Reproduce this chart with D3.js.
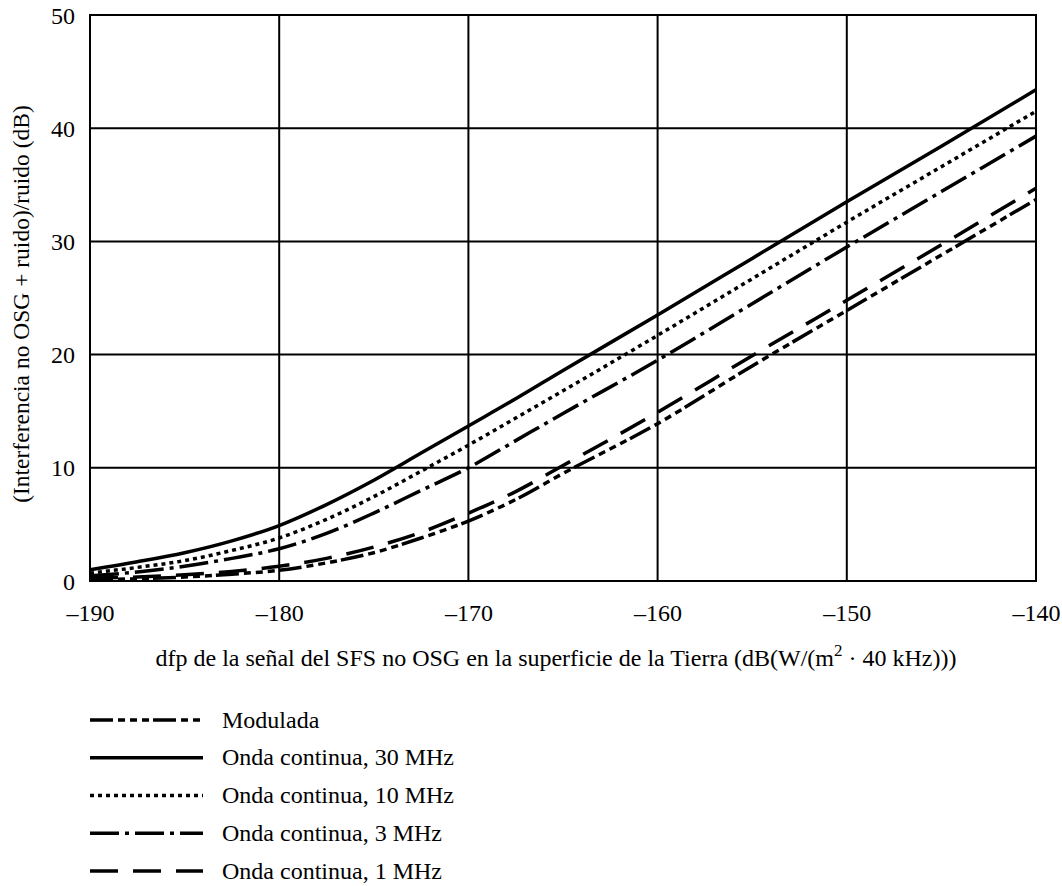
<!DOCTYPE html>
<html lang="es">
<head>
<meta charset="UTF-8">
<title>Interferencia no OSG</title>
<script src="https://cdn.jsdelivr.net/npm/d3@7/dist/d3.min.js"></script>
<style>
body { margin: 0; background: #fff; }
text { font-family: "Liberation Serif", "Times New Roman", serif; font-size: 24px; fill: #000; }
</style>
</head>
<body>
<svg width="1062" height="886"></svg>
<script>
// dfp values (dB(W/(m2 · 40 kHz)))
var pfd = [-190, -187.5, -185, -182.5, -180, -177.5, -175, -172.5, -170, -167.5, -165, -160, -155, -150, -145, -140];

// (I + N)/N in dB
var modulada = [0.1, 0.2, 0.35, 0.6, 0.95, 1.6, 2.5, 3.8, 5.3, 7.2, 9.5, 13.9, 19.0, 23.9, 28.8, 33.7];
var cw30 = [1.0, 1.7, 2.5, 3.55, 4.9, 6.75, 8.9, 11.3, 13.7, 16.1, 18.6, 23.5, 28.5, 33.5, 38.4, 43.4];
var cw10 = [0.7, 1.2, 1.8, 2.7, 3.8, 5.45, 7.45, 9.7, 12.0, 14.4, 16.8, 21.7, 26.7, 31.7, 36.6, 41.5];
var cw3 = [0.45, 0.8, 1.3, 2.0, 2.85, 4.2, 6.0, 8.0, 10.0, 12.4, 14.8, 19.5, 24.5, 29.5, 34.4, 39.3];
var cw1 = [0.25, 0.35, 0.55, 0.85, 1.3, 2.0, 3.0, 4.3, 6.0, 7.9, 10.2, 14.9, 19.9, 24.8, 29.7, 34.7];

var xTicks = [-190, -180, -170, -160, -150, -140];
var yTicks = [0, 10, 20, 30, 40, 50];

var seriesNames = ['Modulada', 'Onda continua, 30 MHz', 'Onda continua, 10 MHz', 'Onda continua, 3 MHz', 'Onda continua, 1 MHz'];
var seriesValues = [modulada, cw30, cw10, cw3, cw1];
var seriesDash = ['23,5,7,5,7,5,7,4', null, '4,4', '29,6,4,6', '28,15'];

var svg = d3.select('svg');
var pLeft = 90, pRight = 1036, pTop = 15, pBottom = 581;

var x = d3.scaleLinear().domain([-190, -140]).range([pLeft, pRight]);
var y = d3.scaleLinear().domain([0, 50]).range([pBottom, pTop]);

// grid
var grid = svg.append('g');
grid.selectAll('line.v').data(xTicks).enter().append('line')
    .attr('class', 'v')
    .attr('x1', function(d) { return x(d); }).attr('x2', function(d) { return x(d); })
    .attr('y1', pTop).attr('y2', pBottom)
    .attr('stroke', '#000').attr('stroke-width', 2);
grid.selectAll('line.h').data(yTicks).enter().append('line')
    .attr('class', 'h')
    .attr('x1', pLeft).attr('x2', pRight)
    .attr('y1', function(d) { return y(d); }).attr('y2', function(d) { return y(d); })
    .attr('stroke', '#000').attr('stroke-width', 2);
svg.append('rect').attr('x', pLeft).attr('y', pTop)
    .attr('width', pRight - pLeft).attr('height', pBottom - pTop)
    .attr('fill', 'none').attr('stroke', '#000').attr('stroke-width', 2);

// axes (labels only, the grid does the lines)
var xAxis = svg.append('g').attr('transform', 'translate(0,' + pBottom + ')')
    .call(d3.axisBottom(x).tickValues(xTicks).tickSize(0).tickPadding(0)
        .tickFormat(function(d) { return d < 0 ? '\u2013' + Math.abs(d) : d; }));
xAxis.select('.domain').remove();
xAxis.selectAll('text').attr('y', 40).attr('dy', null).style('font-size', '24px').style('font-family', '"Liberation Serif", serif');

var yAxis = svg.append('g').attr('transform', 'translate(' + pLeft + ',0)')
    .call(d3.axisLeft(y).tickValues(yTicks).tickSize(0).tickPadding(0));
yAxis.select('.domain').remove();
yAxis.selectAll('text').attr('x', -15).attr('dy', '8px').style('font-size', '24px').style('font-family', '"Liberation Serif", serif');

// curves
var line = d3.line()
    .x(function(d, i) { return x(pfd[i]); })
    .y(function(d) { return y(d); })
    .curve(d3.curveMonotoneX);

svg.append('g').selectAll('path').data(seriesValues).enter().append('path')
    .attr('d', line)
    .attr('fill', 'none')
    .attr('stroke', '#000')
    .attr('stroke-width', 3.5)
    .attr('stroke-dasharray', function(d, i) { return seriesDash[i]; });

// titles
var xt = svg.append('text').attr('x', 556).attr('y', 666).attr('text-anchor', 'middle');
xt.append('tspan').text('dfp de la se\u00f1al del SFS no OSG en la superficie de la Tierra (dB(W/(m');
xt.append('tspan').attr('dy', -10).style('font-size', '17px').text('2');
xt.append('tspan').attr('dy', 10).text(' \u00b7 40 kHz)))');

svg.append('text')
    .attr('transform', 'translate(29,304) rotate(-90)')
    .attr('text-anchor', 'middle')
    .style('font-size', '23.5px')
    .text('(Interferencia no OSG + ruido)/ruido (dB)');

// legend
var legendY = d3.scalePoint().domain(seriesNames).range([720, 871]);
var legend = svg.append('g').selectAll('g').data(seriesNames).enter().append('g')
    .attr('transform', function(d) { return 'translate(0,' + legendY(d) + ')'; });
legend.append('line')
    .attr('x1', 90).attr('x2', 203).attr('y1', 0).attr('y2', 0)
    .attr('stroke', '#000').attr('stroke-width', 3.5)
    .attr('stroke-dasharray', function(d, i) { return seriesDash[i]; });
legend.append('text').attr('x', 222).attr('y', 7.5).text(function(d) { return d; });
</script>
</body>
</html>
